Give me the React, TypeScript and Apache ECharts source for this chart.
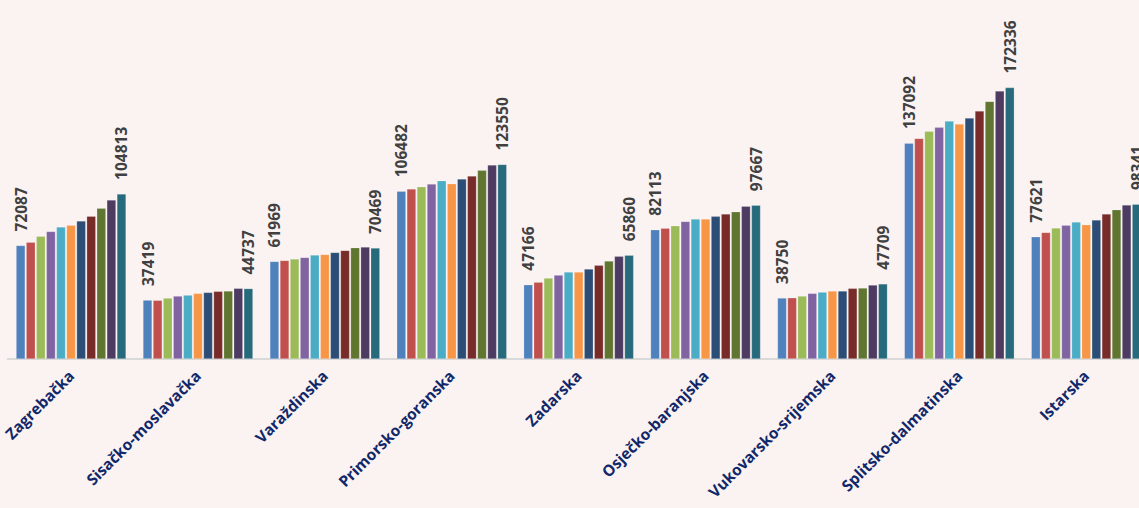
import React, { useEffect, useRef } from "react";
import * as echarts from "echarts";

const categories = [
  "Zagrebačka",
  "Sisačko-moslavačka",
  "Varaždinska",
  "Primorsko-goranska",
  "Zadarska",
  "Osječko-baranjska",
  "Vukovarsko-srijemska",
  "Splitsko-dalmatinska",
  "Istarska",
];

// values per region, one per series (11 series)
const zagrebacka = [72087, 74200, 78000, 81000, 83900, 85000, 87700, 90700, 95700, 101000, 104813];
const sisacko = [37419, 37300, 38700, 40000, 40600, 41700, 42300, 43000, 43200, 44900, 44737];
const varazdinska = [61969, 62600, 63500, 64500, 66000, 66400, 67700, 69000, 70700, 71100, 70469];
const primorsko = [106482, 108000, 109400, 111100, 113200, 111300, 114300, 116200, 119800, 123200, 123550];
const zadarska = [47166, 48800, 51400, 53300, 55200, 55200, 57100, 59500, 62200, 65200, 65860];
const osjecko = [82113, 83100, 84600, 87400, 88900, 88900, 90600, 92100, 93500, 97000, 97667];
const vukovarsko = [38750, 38900, 40000, 41700, 42500, 43200, 43200, 44900, 45100, 47000, 47709];
const splitsko = [137092, 140100, 144600, 147100, 151100, 149200, 153000, 157500, 163600, 170200, 172336];
const istarska = [77621, 80400, 83200, 84900, 87000, 85300, 88300, 92100, 94800, 97800, 98341];

const regionValues = [zagrebacka, sisacko, varazdinska, primorsko, zadarska, osjecko, vukovarsko, splitsko, istarska];

const seriesColors = [
  "#4F81BD", "#C0504D", "#9BBB59", "#8064A2", "#4BACC6", "#F79646",
  "#2C4D75", "#772C2A", "#5F7530", "#4D3B62", "#276A7C",
];

export default function App() {
  const ref = useRef<HTMLDivElement>(null);

  useEffect(() => {
    if (!ref.current) return;
    const chart = echarts.init(ref.current, undefined, { renderer: "svg" });
    const nSeries = seriesColors.length;
    const series = seriesColors.map((color, s) => {
      const labeled = s === 0 || s === nSeries - 1;
      return {
        type: "bar",
        name: "S" + (s + 1),
        data: regionValues.map((vals) => vals[s]),
        barGap: "10%",
        barCategoryGap: "13.3%",
        itemStyle: { color, borderColor: "rgba(255,255,255,0.35)", borderWidth: 0.6 },
        label: {
          show: labeled,
          position: "top",
          rotate: 90,
          align: "left",
          verticalAlign: "middle",
          distance: 14,
          color: "#404040",
          fontFamily: "Open Sans",
          fontWeight: "bold",
          fontSize: 15.5,
        },
      };
    });
    chart.setOption({
      animation: false,
      backgroundColor: "#FBF3F2",
      grid: {
        left: 7.6,
        right: -10.7,
        top: 44,
        bottom: 149,
        outerBoundsMode: "none",
        containLabel: false,
      },
      xAxis: {
        type: "category",
        data: categories,
        axisLine: { show: true, lineStyle: { color: "#D9D9D9", width: 2 } },
        axisTick: { show: false },
        axisLabel: {
          interval: 0,
          rotate: 45,
          margin: 14,
          color: "#10286A",
          fontFamily: "Open Sans",
          fontWeight: "bold",
          fontSize: 15.5,
        },
      },
      yAxis: {
        type: "value",
        min: 0,
        max: 200000,
        show: false,
        splitLine: { show: false },
      },
      series,
    });
    return () => chart.dispose();
  }, []);

  return (
    <div
      ref={ref}
      style={{ position: "absolute", left: 0, top: 0, width: "1139px", height: "508px" }}
    />
  );
}
